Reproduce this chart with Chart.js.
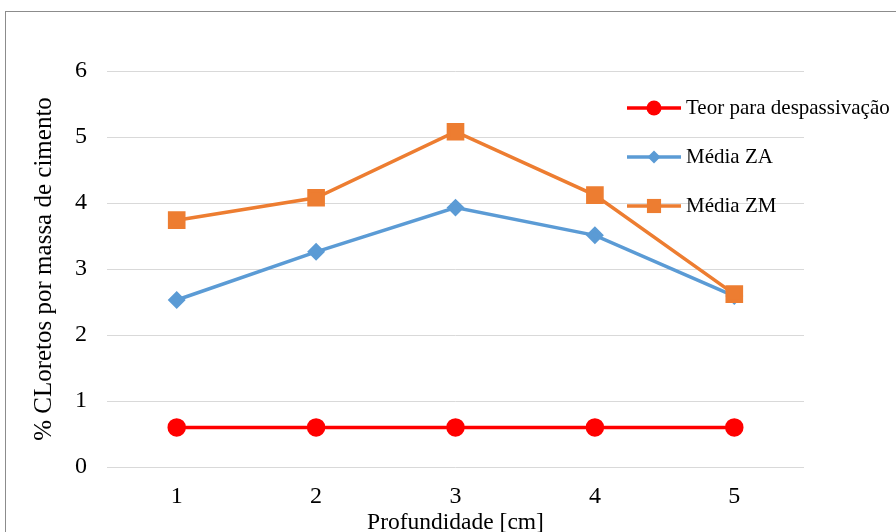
<!DOCTYPE html>
<html>
<head>
<meta charset="utf-8">
<script src="https://cdn.jsdelivr.net/npm/chart.js@4.4.0/dist/chart.umd.min.js"></script>
<style>
  html, body { margin: 0; padding: 0; background: #fff; }
  #chart { display: block; }
</style>
</head>
<body>
<canvas id="chart" width="896" height="532"></canvas>
<script>
// Chart data
const categories = ["1", "2", "3", "4", "5"];
const teorValues = [0.6, 0.6, 0.6, 0.6, 0.6];
const mediaZA = [2.53, 3.26, 3.93, 3.51, 2.59];
const mediaZM = [3.74, 4.08, 5.08, 4.12, 2.62];
const yTicks = [0, 1, 2, 3, 4, 5, 6];

const serif = "'Liberation Serif', 'Times New Roman', serif";

// Frame + custom legend drawn on the canvas
const framePlugin = {
  id: "frame",
  beforeDraw(chart) {
    const ctx = chart.ctx;
    ctx.save();
    ctx.fillStyle = "#fff";
    ctx.fillRect(0, 0, chart.width, chart.height);
    ctx.strokeStyle = "#8c8c8c";
    ctx.lineWidth = 1;
    ctx.strokeRect(5.5, 11.5, 1000, 1000);
    ctx.restore();
  },
  afterDraw(chart) {
    const ctx = chart.ctx;
    const rows = [108, 157, 206];
    ctx.save();
    chart.data.datasets.forEach((ds, i) => {
      const y = rows[i];
      ctx.strokeStyle = ds.borderColor;
      ctx.lineWidth = ds.borderWidth;
      ctx.beginPath();
      ctx.moveTo(627, y);
      ctx.lineTo(681, y);
      ctx.stroke();
      ctx.fillStyle = ds.pointBackgroundColor;
      const r = ds.pointRadius;
      ctx.beginPath();
      if (ds.pointStyle === "circle") {
        ctx.arc(654, y, r, 0, Math.PI * 2);
      } else if (ds.pointStyle === "rectRot") {
        ctx.moveTo(654, y - r);
        ctx.lineTo(654 + r, y);
        ctx.lineTo(654, y + r);
        ctx.lineTo(654 - r, y);
        ctx.closePath();
      } else {
        const h = r * Math.SQRT1_2;
        ctx.rect(654 - h, y - h, h * 2, h * 2);
      }
      ctx.fill();
      ctx.fillStyle = "#000";
      ctx.font = "21px " + serif;
      ctx.textBaseline = "middle";
      ctx.fillText(ds.label, 686, y);
    });
    ctx.restore();
  }
};

new Chart(document.getElementById("chart"), {
  type: "line",
  data: {
    labels: categories,
    datasets: [
      {
        label: "Teor para despassivação",
        data: teorValues,
        borderColor: "#ff0000",
        backgroundColor: "#ff0000",
        pointBackgroundColor: "#ff0000",
        pointBorderColor: "#ff0000",
        borderWidth: 3.5,
        pointStyle: "circle",
        pointRadius: 7.5,
        order: 2
      },
      {
        label: "Média ZA",
        data: mediaZA,
        borderColor: "#5b9bd5",
        backgroundColor: "#5b9bd5",
        pointBackgroundColor: "#5b9bd5",
        pointBorderColor: "#5b9bd5",
        borderWidth: 3.5,
        pointStyle: "rectRot",
        pointRadius: 6.5,
        order: 1
      },
      {
        label: "Média ZM",
        data: mediaZM,
        borderColor: "#ed7d31",
        backgroundColor: "#ed7d31",
        pointBackgroundColor: "#ed7d31",
        pointBorderColor: "#ed7d31",
        borderWidth: 3.5,
        pointStyle: "rect",
        pointRadius: 10,
        order: 0
      }
    ]
  },
  options: {
    responsive: false,
    animation: false,
    layout: { padding: { left: 5, right: 92, top: 71, bottom: 0 } },
    plugins: {
      legend: { display: false },
      tooltip: { enabled: false }
    },
    elements: { line: { tension: 0 }, point: { borderWidth: 0 } },
    scales: {
      x: {
        offset: true,
        grid: { display: false, drawTicks: false },
        border: { display: false },
        ticks: { color: "#000", font: { family: serif, size: 24 }, padding: 15 },
        title: {
          display: true,
          text: "Profundidade [cm]",
          color: "#000",
          font: { family: serif, size: 23.5, lineHeight: 0.8 },
          padding: { top: 0, bottom: 0 }
        },
        afterFit(scale) { scale.height = 65; }
      },
      y: {
        min: 0,
        max: 6,
        afterBuildTicks(scale) { scale.ticks = yTicks.map(v => ({ value: v })); },
        grid: { color: "#d9d9d9", lineWidth: 1, drawTicks: false },
        border: { display: false },
        ticks: { color: "#000", font: { family: serif, size: 24 }, padding: 20 },
        title: {
          display: true,
          text: "% CLoretos por massa de cimento",
          color: "#000",
          font: { family: serif, size: 25 },
          padding: { top: 24, bottom: 0 }
        },
        afterFit(scale) { scale.width = 102; }
      }
    }
  },
  plugins: [framePlugin]
});
</script>
</body>
</html>
